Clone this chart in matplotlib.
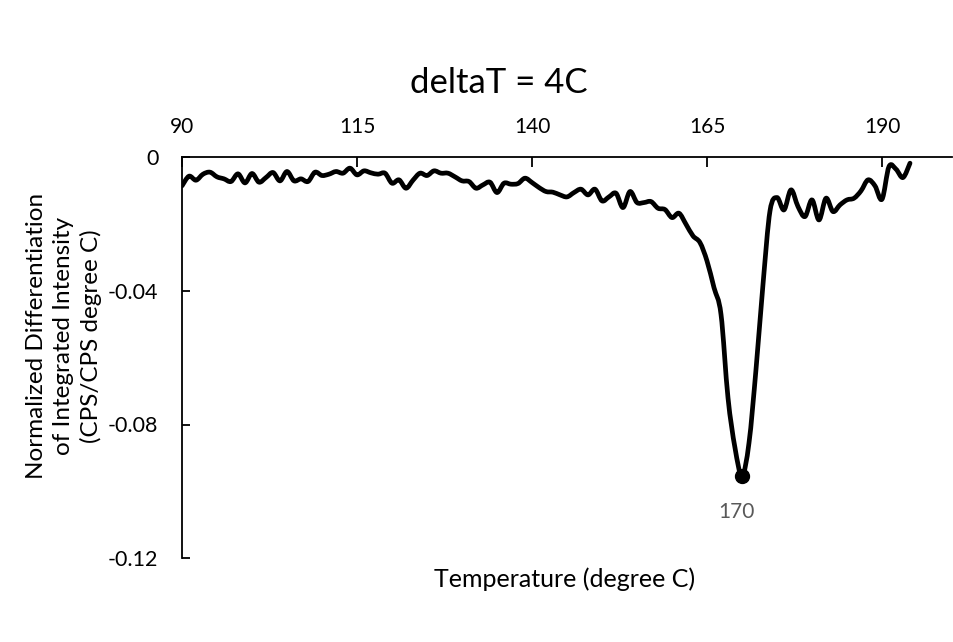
import numpy as np
import matplotlib
matplotlib.use("Agg")
import matplotlib.pyplot as plt
from matplotlib.path import Path
from matplotlib.patches import PathPatch

plt.rcParams['font.family'] = ['Lato', 'DejaVu Sans']

# ---- data ----
temperature = list(range(90, 195))
intensity = [
    -0.0085, -0.0056, -0.0068, -0.0050, -0.0044, -0.0058, -0.0064, -0.0072, -0.0049, -0.0076,  # 90-99
    -0.0048, -0.0074, -0.0060, -0.0045, -0.0070, -0.0042, -0.0070, -0.0064, -0.0072, -0.0044,  # 100-109
    -0.0054, -0.0050, -0.0042, -0.0047, -0.0032, -0.0052, -0.0040, -0.0046, -0.0050, -0.0047,  # 110-119
    -0.0077, -0.0067, -0.0092, -0.0068, -0.0047, -0.0054, -0.0040, -0.0047, -0.0047, -0.0058,  # 120-129
    -0.0070, -0.0072, -0.0092, -0.0082, -0.0074, -0.0105, -0.0077, -0.0080, -0.0078, -0.0062,  # 130-139
    -0.0075, -0.0090, -0.0102, -0.0104, -0.0112, -0.0118, -0.0105, -0.0095, -0.0112, -0.0095,  # 140-149
    -0.0130, -0.0118, -0.0107, -0.0150, -0.0102, -0.0135, -0.0135, -0.0132, -0.0152, -0.0156,  # 150-159
    -0.0180, -0.0167, -0.0200, -0.0235, -0.0255, -0.0310, -0.0390, -0.0470, -0.0720, -0.0870,  # 160-169
    -0.0955, -0.0855, -0.0635, -0.0380, -0.0160, -0.0120, -0.0157, -0.0097, -0.0147, -0.0177,  # 170-179
    -0.0127, -0.0187, -0.0122, -0.0162, -0.0142, -0.0127, -0.0122, -0.0100, -0.0067, -0.0085,  # 180-189
    -0.0125, -0.0027, -0.0035, -0.0060, -0.0017,                                               # 190-194
]
peak_temperature = 170
x_ticks = [90, 115, 140, 165, 190]
y_ticks = [0, -0.04, -0.08, -0.12]
y_tick_labels = ['0', '-0.04', '-0.08', '-0.12']

title = 'deltaT = 4C'
x_label = 'Temperature (degree C)'
y_label = 'Normalized Differentiation\nof Integrated Intensity\n(CPS/CPS degree C)'

# ---- figure ----
fig = plt.figure(figsize=(9.54, 6.42), dpi=100)
ax = fig.add_axes([182 / 954, 1 - 558 / 642, 770 / 954, (558 - 157.5) / 642])

# Excel-like smoothed line: cubic Bezier segments (Catmull-Rom tangents)
x = np.asarray(temperature, dtype=float)
y = np.asarray(intensity, dtype=float)
verts = [(x[0], y[0])]
codes = [Path.MOVETO]
n = len(x)
for i in range(n - 1):
    x0, y0 = (x[i - 1], y[i - 1]) if i > 0 else (x[i], y[i])
    x3, y3 = (x[i + 2], y[i + 2]) if i + 2 < n else (x[i + 1], y[i + 1])
    c1 = (x[i] + (x[i + 1] - x0) / 6, y[i] + (y[i + 1] - y0) / 6)
    c2 = (x[i + 1] - (x3 - x[i]) / 6, y[i + 1] - (y3 - y[i]) / 6)
    verts += [c1, c2, (x[i + 1], y[i + 1])]
    codes += [Path.CURVE4] * 3
patch = PathPatch(Path(verts, codes), facecolor='none', edgecolor='black',
                  linewidth=3.4, capstyle='round', joinstyle='round')
ax.add_patch(patch)

# peak marker and label
pk = temperature.index(peak_temperature)
ax.plot([temperature[pk]], [intensity[pk]], 'o', color='black', markersize=10)
ax.annotate(str(peak_temperature), (temperature[pk], intensity[pk]),
            xytext=(-4, -26), textcoords='offset points', ha='center', va='center',
            fontsize=15, color='#595959')

ax.set_xlim(90, 200)
ax.set_ylim(-0.12, 0)
ax.set_xticks(x_ticks)
ax.set_yticks(y_ticks)
ax.set_yticklabels(y_tick_labels)

ax.xaxis.tick_top()
ax.spines['bottom'].set_visible(False)
ax.spines['right'].set_visible(False)
for s in ('top', 'left'):
    ax.spines[s].set_linewidth(1.3)
    ax.spines[s].set_color('black')
ax.tick_params(axis='x', direction='in', length=7, width=1.3, pad=15, labelsize=15, colors='black')
ax.tick_params(axis='y', direction='in', length=6, width=1.3, pad=17, labelsize=15.5, colors='black')

fig.text(499 / 954, 1 - 83 / 642, title, ha='center', va='center', fontsize=25)
fig.text(565 / 954, 1 - 579 / 642, x_label, ha='center', va='center', fontsize=18)
fig.text(64 / 954, 1 - 336 / 642, y_label, ha='center', va='center', rotation=90,
         fontsize=17.5, linespacing=1.35)

fig.savefig('out.png', dpi=100)
